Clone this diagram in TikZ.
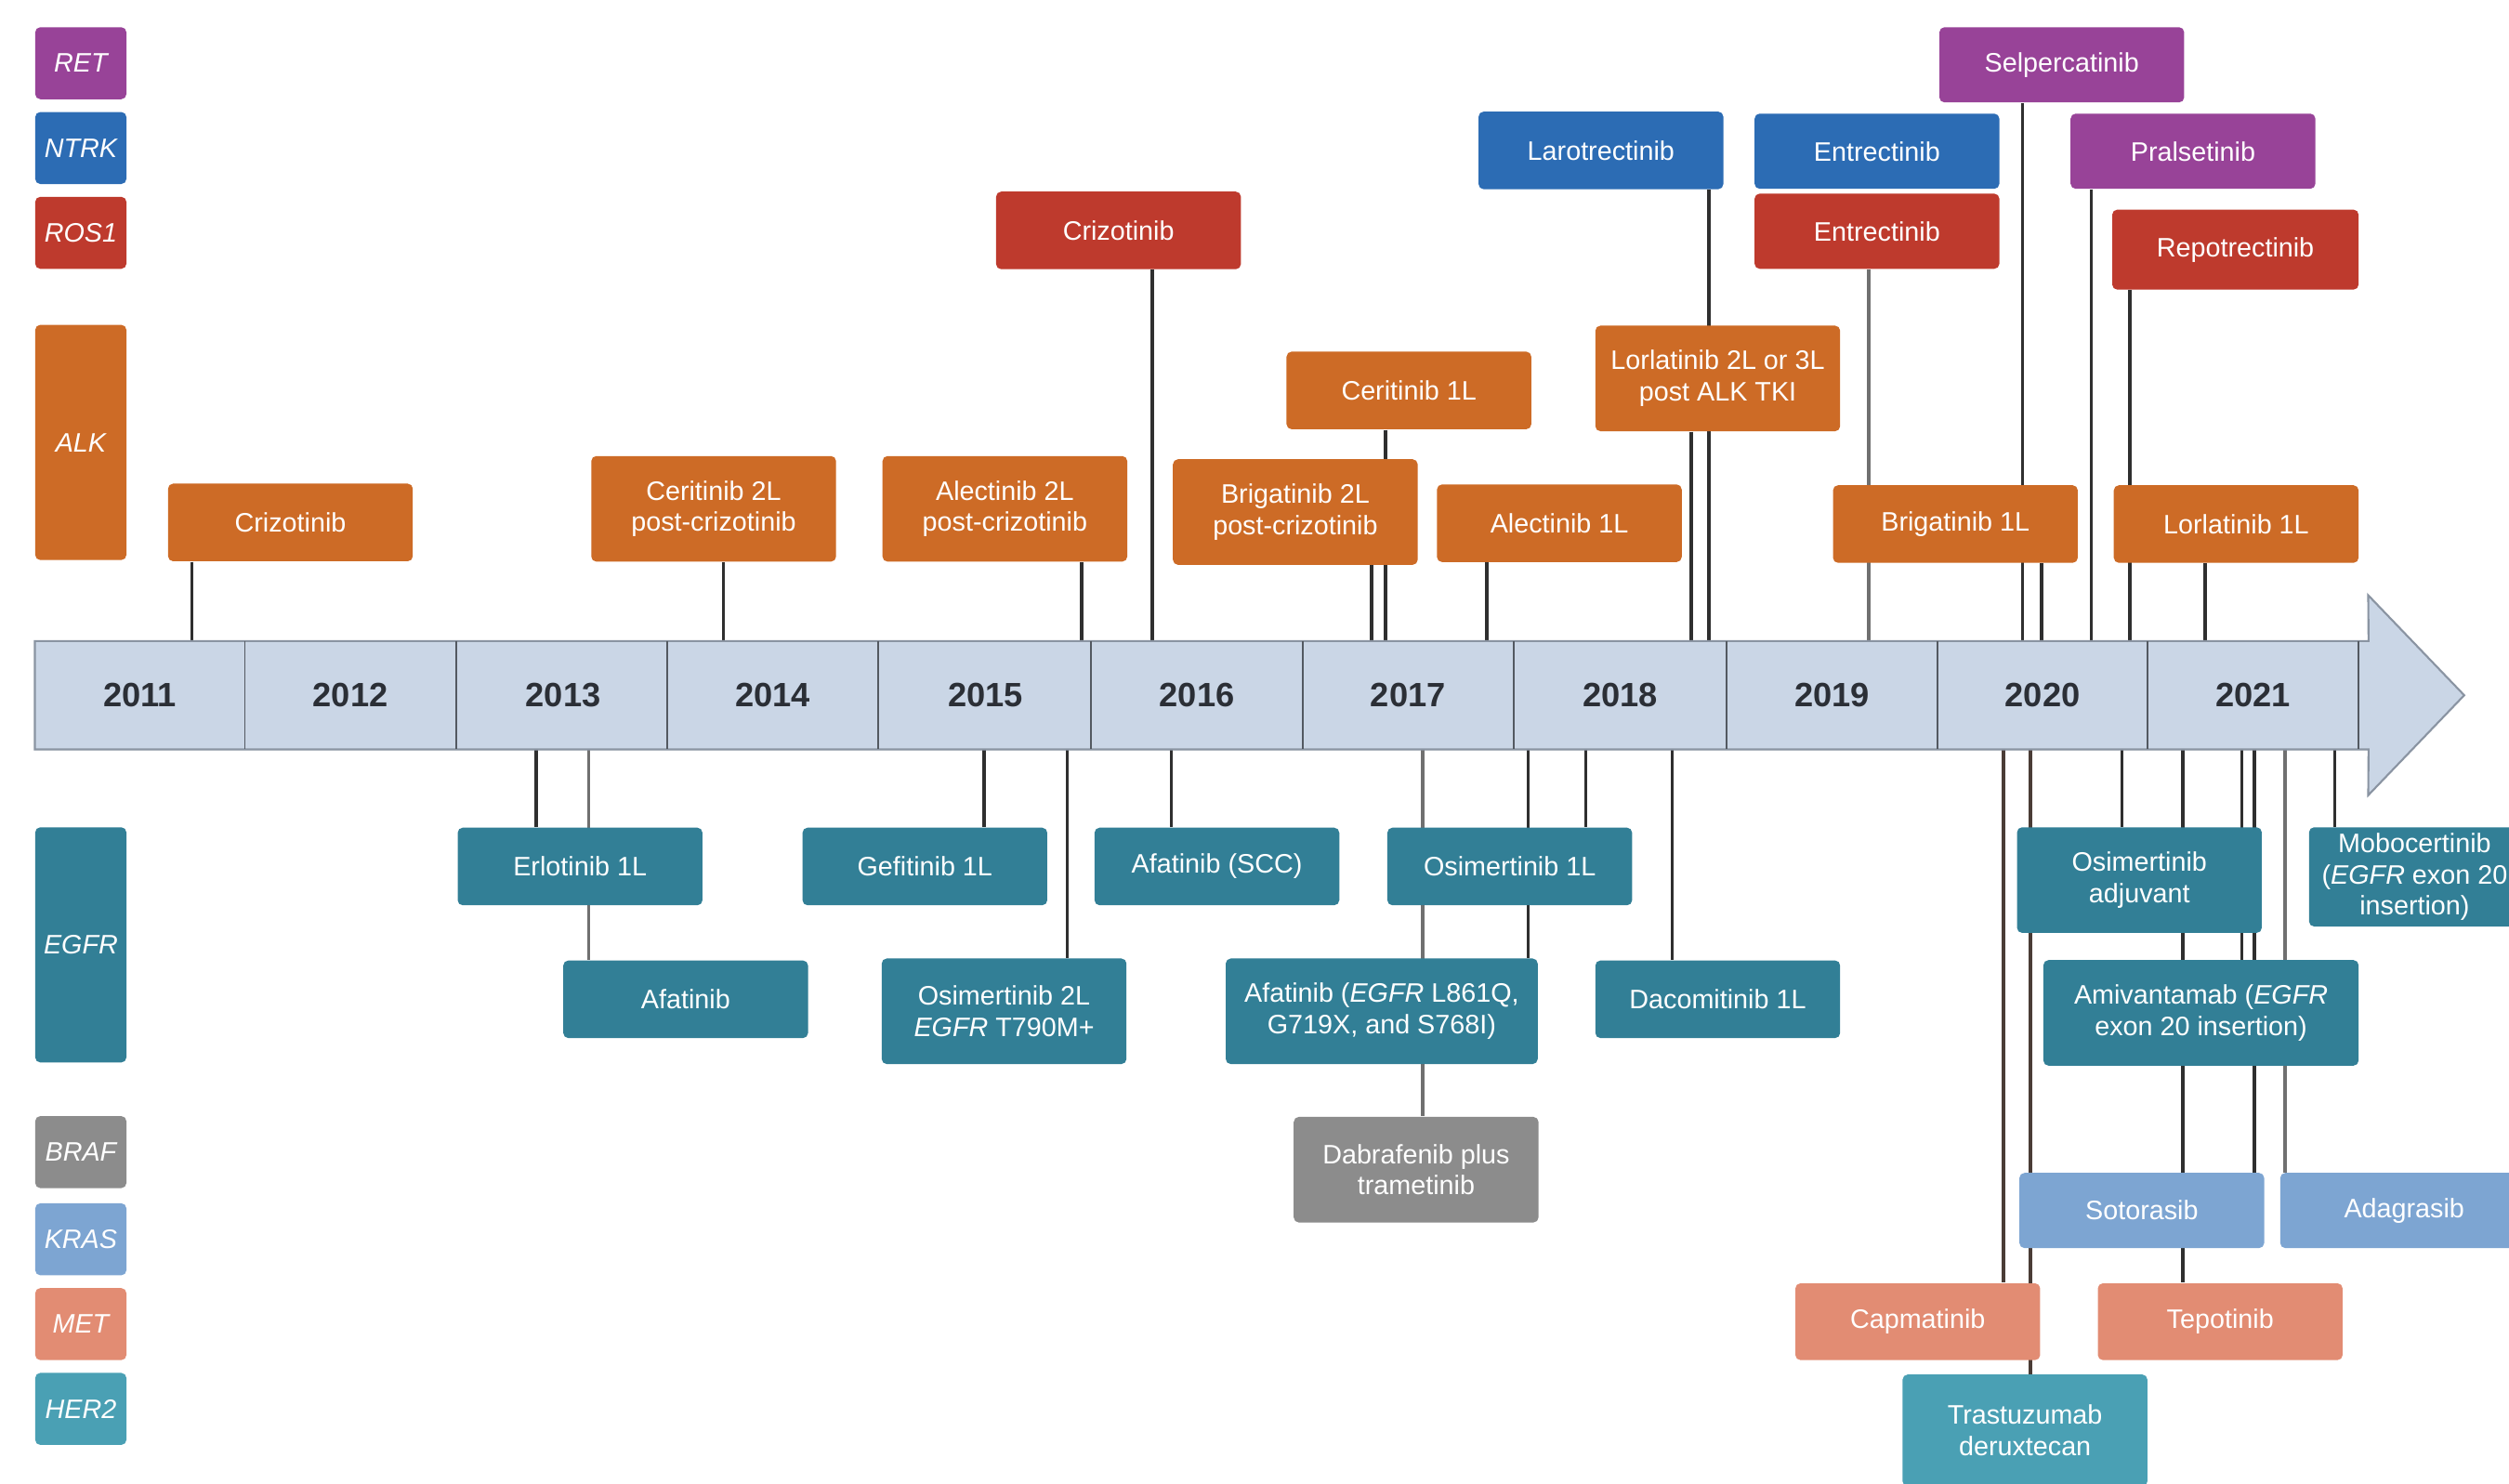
\documentclass[tikz,border=0pt]{standalone}
\usepackage{fontspec}
\setmainfont{Liberation Sans}
\usetikzlibrary{calc}
\pgfdeclarelayer{bg}
\pgfsetlayers{bg,main}
\definecolor{cALK}{HTML}{CD6B26}
\definecolor{cROS}{HTML}{BE3A2D}
\definecolor{cNTRK}{HTML}{2C6CB4}
\definecolor{cRET}{HTML}{984398}
\definecolor{cEGFR}{HTML}{327F96}
\definecolor{cBRAF}{HTML}{8C8C8C}
\definecolor{cKRAS}{HTML}{7DA5D2}
\definecolor{cMET}{HTML}{E28C73}
\definecolor{cHER}{HTML}{4AA0B4}
\definecolor{barfill}{HTML}{CAD6E6}
\definecolor{barline}{HTML}{8A94A2}
\definecolor{yeartext}{HTML}{2B2F36}
\definecolor{lnDark}{HTML}{2F2F2F}
\definecolor{lnGray}{HTML}{707070}
\definecolor{lnBrown}{HTML}{4A3C36}
\newcommand\boxfont{\fontsize{9.5}{11.2}\selectfont}
\newcommand\yearfont{\fontsize{12}{14}\selectfont\bfseries}
\begin{document}
\begin{tikzpicture}[x=0.02cm,y=-0.02cm,
  box/.style={rectangle, rounded corners=1.8pt, text=white, align=center,
    inner sep=0pt, font=\boxfont, minimum width=3.06cm},
  legend/.style={rectangle, rounded corners=1.8pt, text=white, align=center,
    inner sep=0pt, font=\boxfont\itshape, minimum width=1.14cm, minimum height=0.9cm},
  sALK/.style={fill=cALK}, sROS/.style={fill=cROS}, sNTRK/.style={fill=cNTRK},
  sRET/.style={fill=cRET}, sEGFR/.style={fill=cEGFR}, sBRAF/.style={fill=cBRAF},
  sKRAS/.style={fill=cKRAS}, sMET/.style={fill=cMET}, sHER/.style={fill=cHER},
  hA/.style={minimum height=0.97cm}, hB/.style={minimum height=1.32cm},
  conn/.style={draw=lnDark, line width=1.2pt},
  conng/.style={draw=lnGray, line width=1.2pt},
  connb/.style={draw=lnBrown, line width=1.2pt},
  year/.style={font=\yearfont, text=yeartext, inner sep=0pt},
  divider/.style={draw=barline!60!black, line width=0.6pt}]
\path[use as bounding box] (0,0) rectangle (1568,927);
\clip (0,0) rectangle (1568,927);

% ---------- legend ----------
\node[legend, sRET] (lRET) at (50.5,39.5) {RET};
\node[legend, sNTRK] (lNTRK) at (50.5,92.5) {NTRK};
\node[legend, sROS] (lROS) at (50.5,145.5) {ROS1};
\node[legend, sALK, minimum height=2.94cm] (lALK) at (50.5,276.5) {ALK};
\node[legend, sEGFR, minimum height=2.94cm] (lEGFR) at (50.5,590.5) {EGFR};
\node[legend, sBRAF] (lBRAF) at (50.5,720) {BRAF};
\node[legend, sKRAS] (lKRAS) at (50.5,774.5) {KRAS};
\node[legend, sMET] (lMET) at (50.5,827.5) {MET};
\node[legend, sHER] (lHER) at (50.5,880.5) {HER2};

% ---------- timeline bar ----------
\node[minimum width=29.16cm, minimum height=1.34cm, inner sep=0pt] (bar) at (751,434.5) {};
\filldraw[fill=barfill, draw=barline, line width=0.7pt]
  (bar.north west) -- (bar.north east) -- (1480,372) -- (1540,434.5)
  -- (1480,497) -- (bar.south east) -- (bar.south west) -- cycle;
\foreach \x in {153,285,417,549,682,814,946,1079,1211,1342,1474}
  \draw[divider] (\x,0 |- bar.north) -- (\x,0 |- bar.south);
\node[year] (y2011) at (87.5,434.5) {2011};
\node[year] (y2012) at (219,434.5) {2012};
\node[year] (y2013) at (352,434.5) {2013};
\node[year] (y2014) at (483,434.5) {2014};
\node[year] (y2015) at (616,434.5) {2015};
\node[year] (y2016) at (748,434.5) {2016};
\node[year] (y2017) at (880,434.5) {2017};
\node[year] (y2018) at (1012.5,434.5) {2018};
\node[year] (y2019) at (1145,434.5) {2019};
\node[year] (y2020) at (1276.5,434.5) {2020};
\node[year] (y2021) at (1408,434.5) {2021};

% ---------- boxes above the bar ----------
\node[box, sALK, hA] (crizALK) at (181.5,326.5) {Crizotinib};
\node[box, sALK, hB] (ceri2) at (446,318) {Ceritinib 2L\\post-crizotinib};
\node[box, sALK, hB] (alec2) at (628,318) {Alectinib 2L\\post-crizotinib};
\node[box, sROS, hA] (crizROS) at (699,144) {Crizotinib};
\node[box, sALK, hB] (brig2) at (809.5,320) {Brigatinib 2L\\post-crizotinib};
\node[box, sALK, hA] (ceri1) at (880.5,244) {Ceritinib 1L};
\node[box, sALK, hA] (alec1) at (974.5,327) {Alectinib 1L};
\node[box, sNTRK, hA] (laro) at (1000.5,94) {Larotrectinib};
\node[box, sALK, hB] (lorl2) at (1073.5,236.5) {Lorlatinib 2L or 3L\\post ALK TKI};
\node[box, sNTRK, minimum height=0.94cm] (entrN) at (1173,94.5) {Entrectinib};
\node[box, sROS, minimum height=0.94cm] (entrR) at (1173,144.5) {Entrectinib};
\node[box, sRET, minimum height=0.94cm] (selp) at (1288.5,40.5) {Selpercatinib};
\node[box, sRET, minimum height=0.94cm] (pral) at (1370.5,94.5) {Pralsetinib};
\node[box, sROS, minimum height=1.0cm, minimum width=3.08cm] (repo) at (1397,156) {Repotrectinib};
\node[box, sALK, hA] (brig1) at (1222,327.5) {Brigatinib 1L};
\node[box, sALK, hA] (lorl1) at (1397.5,327.5) {Lorlatinib 1L};

% ---------- boxes below the bar ----------
\node[box, sEGFR, hA] (erlo) at (362.5,541.5) {Erlotinib 1L};
\node[box, sEGFR, hA] (afat) at (428.5,624.5) {Afatinib};
\node[box, sEGFR, hA] (gefi) at (578,541.5) {Gefitinib 1L};
\node[box, sEGFR, hB] (osi2) at (627.5,632) {Osimertinib 2L\\\textit{EGFR} T790M+};
\node[box, sEGFR, hA] (afscc) at (760.5,541.5) {Afatinib (SCC)};
\node[box, sEGFR, hA] (osi1) at (943.5,541.5) {Osimertinib 1L};
\node[box, sEGFR, hB, minimum width=3.9cm] (afunc) at (863.5,632) {Afatinib (\textit{EGFR} L861Q,\\G719X, and S768I)};
\node[box, sBRAF, hB] (dabr) at (885,731) {Dabrafenib plus\\trametinib};
\node[box, sEGFR, hA] (daco) at (1073.5,624.5) {Dacomitinib 1L};
\node[box, sEGFR, hB] (osiadj) at (1337,550) {Osimertinib\\adjuvant};
\node[box, sEGFR, hB, minimum width=3.94cm] (amiv) at (1375.5,633) {Amivantamab (\textit{EGFR}\\exon 20 insertion)};
\node[box, sEGFR, minimum height=1.24cm, minimum width=2.64cm] (mobo) at (1509,548) {Mobocertinib\\(\textit{EGFR} exon 20\\insertion)};
\node[box, sKRAS, minimum height=0.94cm] (soto) at (1338.5,756.5) {Sotorasib};
\node[box, sKRAS, minimum height=0.94cm, minimum width=3.1cm] (adag) at (1502.5,756.5) {Adagrasib};
\node[box, sMET, minimum height=0.96cm] (capm) at (1198.5,826) {Capmatinib};
\node[box, sMET, minimum height=0.96cm] (tepo) at (1387.5,826) {Tepotinib};
\node[box, sHER, minimum height=1.4cm] (tras) at (1265.5,894) {Trastuzumab\\deruxtecan};

% ---------- connectors (behind the boxes) ----------
\begin{pgfonlayer}{bg}
\fill[white] (0,0) rectangle (1568,927);
% above
\draw[conn]  (120,0 |- crizALK.south) -- (120,0 |- bar.north);
\draw[conn]  (452,0 |- ceri2.south) -- (452,0 |- bar.north);
\draw[conn]  (676,0 |- alec2.south) -- (676,0 |- bar.north);
\draw[conn]  (720,0 |- crizROS.south) -- (720,0 |- bar.north);
\draw[conn]  (857,0 |- brig2.south) -- (857,0 |- bar.north);
\draw[conn]  (866,0 |- ceri1.south) -- (866,0 |- bar.north);
\draw[conn]  (929,0 |- alec1.south) -- (929,0 |- bar.north);
\draw[conn]  (1068,0 |- laro.south) -- (1068,0 |- bar.north);
\draw[conn]  (1057,0 |- lorl2.south) -- (1057,0 |- bar.north);
\draw[conng] (1168,0 |- entrR.south) -- (1168,0 |- bar.north);
\draw[conn]  (1264,0 |- selp.south) -- (1264,0 |- bar.north);
\draw[conn]  (1276,0 |- brig1.south) -- (1276,0 |- bar.north);
\draw[conn]  (1307,0 |- pral.south) -- (1307,0 |- bar.north);
\draw[conn]  (1331,0 |- repo.south) -- (1331,0 |- bar.north);
\draw[conn]  (1378,0 |- lorl1.south) -- (1378,0 |- bar.north);
% below
\draw[conn]  (335,0 |- bar.south) -- (335,0 |- erlo.north);
\draw[conng] (368,0 |- bar.south) -- (368,0 |- afat.north);
\draw[conn]  (615,0 |- bar.south) -- (615,0 |- gefi.north);
\draw[conn]  (667,0 |- bar.south) -- (667,0 |- osi2.north);
\draw[conn]  (732,0 |- bar.south) -- (732,0 |- afscc.north);
\draw[conng] (889,0 |- bar.south) -- (889,0 |- dabr.north);
\draw[conn]  (955,0 |- bar.south) -- (955,0 |- afunc.north);
\draw[conn]  (991,0 |- bar.south) -- (991,0 |- osi1.north);
\draw[conn]  (1045,0 |- bar.south) -- (1045,0 |- daco.north);
\draw[connb] (1252,0 |- bar.south) -- (1252,0 |- capm.north);
\draw[connb] (1269,0 |- bar.south) -- (1269,0 |- tras.north);
\draw[conn]  (1326,0 |- bar.south) -- (1326,0 |- osiadj.north);
\draw[conn]  (1364,0 |- bar.south) -- (1364,0 |- tepo.north);
\draw[conn]  (1401,0 |- bar.south) -- (1401,0 |- amiv.north);
\draw[conn]  (1409,0 |- bar.south) -- (1409,0 |- soto.north);
\draw[conng] (1428,0 |- bar.south) -- (1428,0 |- adag.north);
\draw[conn]  (1459,0 |- bar.south) -- (1459,0 |- mobo.north);
\end{pgfonlayer}
\end{tikzpicture}
\end{document}
